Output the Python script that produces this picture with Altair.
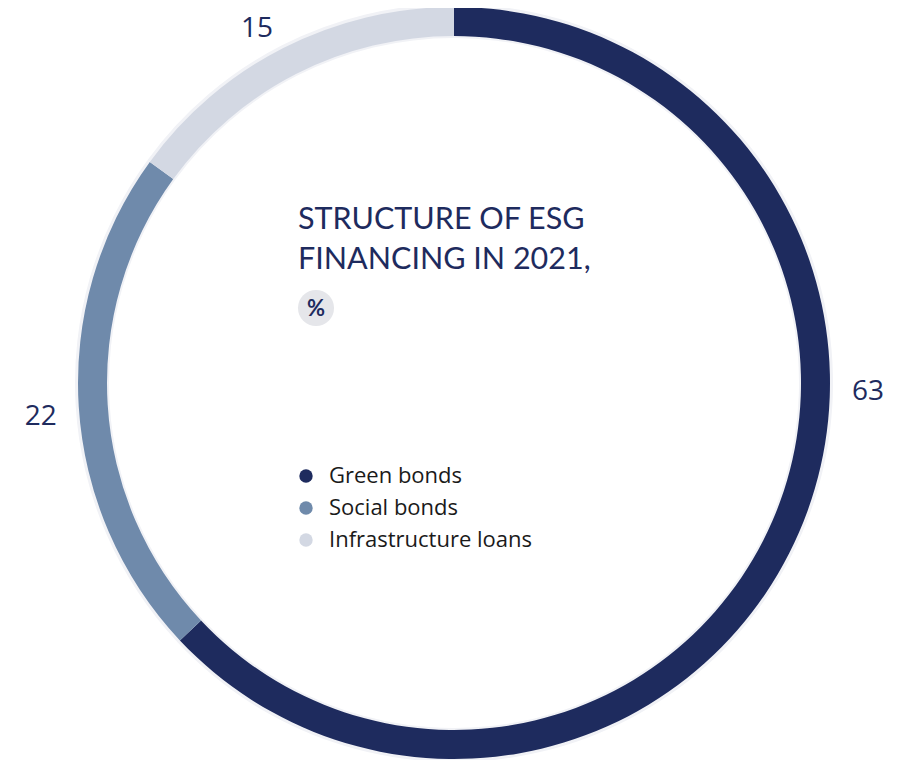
import altair as alt
import pandas as pd

categories = ["Green bonds", "Social bonds", "Infrastructure loans"]
values = [63, 22, 15]
order_idx = [0, 1, 2]
colors = ["#1e2b5e", "#6f8aab", "#d3d8e3"]
title_lines = ["STRUCTURE OF ESG", "FINANCING IN 2021,"]
unit_label = "%"

df = pd.DataFrame({"category": categories, "value": values, "order": order_idx})

CX, CY = 446, 375
NAVY = "#1e2b5e"

base = alt.Chart(df).encode(
    theta=alt.Theta("value:Q", stack=True),
    order=alt.Order("order:Q", sort="ascending"),
)

shadow = base.mark_arc(outerRadius=379, innerRadius=345, color="#f1f2f6").encode(
    x=alt.value(CX), y=alt.value(CY)
)

ring = base.mark_arc(outerRadius=376, innerRadius=347).encode(
    x=alt.value(CX),
    y=alt.value(CY),
    color=alt.Color(
        "category:N",
        scale=alt.Scale(domain=categories, range=colors),
        sort=categories,
        legend=alt.Legend(
            title=None,
            orient="none",
            legendX=287,
            legendY=457,
            symbolType="circle",
            symbolSize=180,
            symbolStrokeWidth=0,
            labelFont="Open Sans",
            labelFontSize=22,
            labelColor="#1a1a1a",
            labelLimit=400,
            rowPadding=10,
            labelOffset=12,
        ),
    ),
)

# small nudges of the value labels (per category), applied as mark offsets
nudges = {"Green bonds": (36, -155), "Social bonds": (-2, 8), "Infrastructure loans": (-10, 13)}

label_layers = []
for cat in categories:
    ddx, ddy = nudges[cat]
    label_layers.append(
        base.mark_text(
            radius=412, fontSize=28, font="Open Sans", color=NAVY, dx=ddx, dy=ddy
        ).encode(
            x=alt.value(CX),
            y=alt.value(CY),
            text=alt.condition(f"datum.category == '{cat}'", "value:Q", alt.value("")),
        )
    )

title_layers = []
for i, line in enumerate(title_lines):
    title_layers.append(
        alt.Chart(pd.DataFrame({"line": [line]})).mark_text(
            align="left", baseline="alphabetic", fontSize=30.5, font="Lato", color=NAVY
        ).encode(x=alt.value(290), y=alt.value(221 + 40 * i), text="line:N")
    )

unit_df = pd.DataFrame({"t": [unit_label]})
unit_circle = alt.Chart(unit_df).mark_circle(size=1300, color="#e5e6ea", opacity=1).encode(
    x=alt.value(308), y=alt.value(300)
)
unit_text = alt.Chart(unit_df).mark_text(
    fontSize=22, fontWeight="bold", font="Lato", color=NAVY, baseline="middle"
).encode(x=alt.value(308), y=alt.value(301), text="t:N")

chart = (
    alt.layer(shadow, ring, *label_layers, *title_layers, unit_circle, unit_text)
    .properties(width=895, height=752, padding=0, autosize=alt.AutoSizeParams(type="none"))
    .configure_view(strokeWidth=0, stroke="transparent")
)

chart.save("out.html", embed_options={"renderer": "svg", "actions": False})
